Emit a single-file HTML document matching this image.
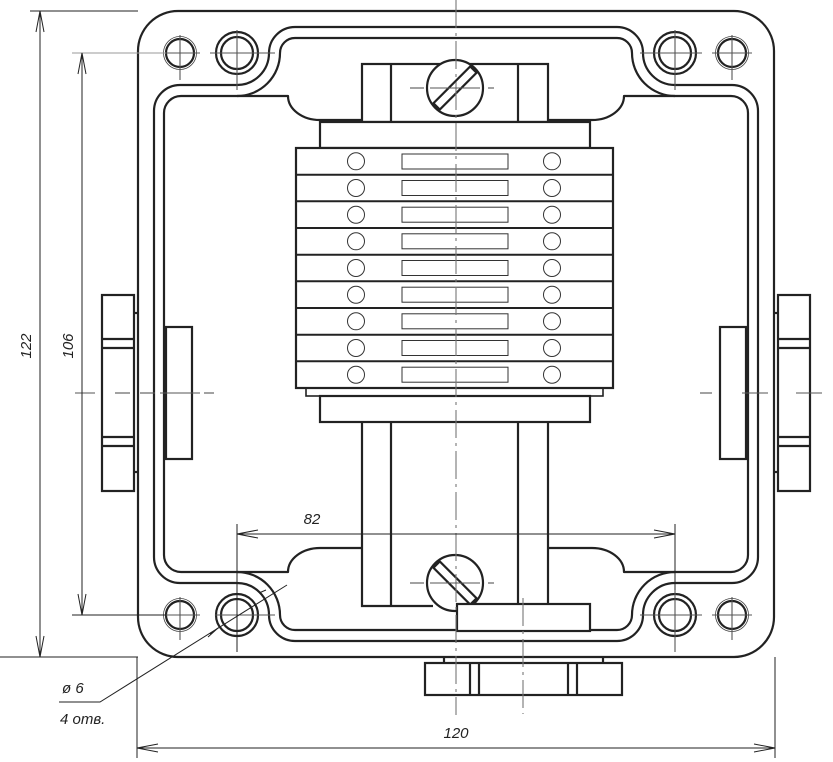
<!DOCTYPE html>
<html><head><meta charset="utf-8"><style>
html,body{margin:0;padding:0;background:#fff;}
svg{display:block;}
text{font-family:"Liberation Sans","DejaVu Sans",sans-serif;font-style:italic;font-size:15px;fill:#222;}
</style></head><body>
<svg width="833" height="762" viewBox="0 0 833 762" xmlns="http://www.w3.org/2000/svg">
<g fill="none" stroke="#222" stroke-width="2.2" stroke-linejoin="round">
<!-- body -->
<rect x="138" y="11" width="636" height="646" rx="40" ry="40"/>
<!-- groove outer -->
<path d="M154,111 A26,26 0 0 1 180,85 L237,85 A32,32 0 0 0 269,53 A26,26 0 0 1 295,27 L617,27 A26,26 0 0 1 643,53 A32,32 0 0 0 675,85 L732,85 A26,26 0 0 1 758,111 L758,557 A26,26 0 0 1 732,583 L675,583 A32,32 0 0 0 643,615 A26,26 0 0 1 617,641 L295,641 A26,26 0 0 1 269,615 A32,32 0 0 0 237,583 L180,583 A26,26 0 0 1 154,557 Z"/>
<!-- cavity -->
<path d="M362,548 L320,548 A32,24 0 0 0 288,572 L181,572 A17,17 0 0 1 164,555 L164,113 A17,17 0 0 1 181,96 L288,96 A32,24 0 0 0 320,120 L592,120 A32,24 0 0 0 624,96 L731,96 A17,17 0 0 1 748,113 L748,555 A17,17 0 0 1 731,572 L624,572 A32,24 0 0 0 592,548 L548,548"/>
<!-- inner groove around holes -->
<path d="M237,96 A43,43 0 0 0 280,53 A15,15 0 0 1 295,38 L617,38 A15,15 0 0 1 632,53 A43,43 0 0 0 675,96"/>
<path d="M237,572 A43,43 0 0 1 280,615 A15,15 0 0 0 295,630 L617,630 A15,15 0 0 0 632,615 A43,43 0 0 1 675,572"/>
<!-- holes -->
<circle cx="180" cy="53" r="14"/><circle cx="732" cy="53" r="14"/>
<circle cx="180" cy="615" r="14"/><circle cx="732" cy="615" r="14"/>
<circle cx="237" cy="53" r="21"/><circle cx="237" cy="53" r="16"/>
<circle cx="675" cy="53" r="21"/><circle cx="675" cy="53" r="16"/>
<circle cx="237" cy="615" r="21"/><circle cx="237" cy="615" r="16"/>
<circle cx="675" cy="615" r="21"/><circle cx="675" cy="615" r="16"/>
</g>
<g fill="none" stroke="#444" stroke-width="0.8">
<circle cx="180" cy="53" r="16.5"/><circle cx="732" cy="53" r="16.5"/>
<circle cx="180" cy="615" r="16.5"/><circle cx="732" cy="615" r="16.5"/>
</g>
<g fill="#fff" stroke="#222" stroke-width="2.2">
<!-- top mount -->
<rect x="362" y="64" width="186" height="58"/>
<line x1="391" y1="64" x2="391" y2="122"/><line x1="518" y1="64" x2="518" y2="122"/>
<circle cx="455" cy="88" r="28"/>
<rect x="429" y="83.5" width="52" height="9" transform="rotate(-45 455 88)"/>
<rect x="320" y="122" width="270" height="26"/>
<!-- bottom of stack -->
<rect x="306" y="386" width="297" height="10" stroke-width="1.6"/>
<rect x="320" y="396" width="270" height="26"/>
<!-- stack -->
<rect x="296" y="148" width="317" height="240"/>
</g>
<g fill="none" stroke="#222" stroke-width="2">
<line x1="296" y1="174.7" x2="613" y2="174.7"/>
<line x1="296" y1="201.3" x2="613" y2="201.3"/>
<line x1="296" y1="228" x2="613" y2="228"/>
<line x1="296" y1="254.7" x2="613" y2="254.7"/>
<line x1="296" y1="281.3" x2="613" y2="281.3"/>
<line x1="296" y1="308" x2="613" y2="308"/>
<line x1="296" y1="334.7" x2="613" y2="334.7"/>
<line x1="296" y1="361.3" x2="613" y2="361.3"/>
</g>
<g fill="none" stroke="#333" stroke-width="1">
<circle cx="356" cy="161.3" r="8.5"/><circle cx="552" cy="161.3" r="8.5"/><rect x="402" y="154" width="106" height="15"/>
<circle cx="356" cy="188" r="8.5"/><circle cx="552" cy="188" r="8.5"/><rect x="402" y="180.5" width="106" height="15"/>
<circle cx="356" cy="214.7" r="8.5"/><circle cx="552" cy="214.7" r="8.5"/><rect x="402" y="207.2" width="106" height="15"/>
<circle cx="356" cy="241.3" r="8.5"/><circle cx="552" cy="241.3" r="8.5"/><rect x="402" y="233.8" width="106" height="15"/>
<circle cx="356" cy="268" r="8.5"/><circle cx="552" cy="268" r="8.5"/><rect x="402" y="260.5" width="106" height="15"/>
<circle cx="356" cy="294.7" r="8.5"/><circle cx="552" cy="294.7" r="8.5"/><rect x="402" y="287.2" width="106" height="15"/>
<circle cx="356" cy="321.3" r="8.5"/><circle cx="552" cy="321.3" r="8.5"/><rect x="402" y="313.8" width="106" height="15"/>
<circle cx="356" cy="348" r="8.5"/><circle cx="552" cy="348" r="8.5"/><rect x="402" y="340.5" width="106" height="15"/>
<circle cx="356" cy="374.7" r="8.5"/><circle cx="552" cy="374.7" r="8.5"/><rect x="402" y="367.2" width="106" height="15"/>
</g>
<g fill="#fff" stroke="#222" stroke-width="2.2">
<!-- bottom mount -->
<path d="M362,422 L362,606 L433,606" fill="none"/>
<line x1="391" y1="422" x2="391" y2="606"/>
<line x1="518" y1="422" x2="518" y2="604"/>
<line x1="548" y1="422" x2="548" y2="604"/>
<circle cx="455" cy="583" r="28"/>
<rect x="429" y="578.5" width="52" height="9" transform="rotate(45 455 583)"/>
<rect x="457" y="604" width="133" height="27"/>
<!-- bottom gland -->
<line x1="444" y1="657" x2="444" y2="664" /><line x1="603" y1="657" x2="603" y2="664"/>
<rect x="425" y="663" width="197" height="32"/>
<line x1="470" y1="663" x2="470" y2="695"/><line x1="479" y1="663" x2="479" y2="695"/>
<line x1="568" y1="663" x2="568" y2="695"/><line x1="577" y1="663" x2="577" y2="695"/>
<!-- left gland -->
<rect x="166" y="327" width="26" height="132"/>
<line x1="134" y1="313" x2="139" y2="313"/><line x1="134" y1="472" x2="139" y2="472"/>
<rect x="102" y="295" width="32" height="196"/>
<line x1="102" y1="339" x2="134" y2="339"/><line x1="102" y1="348" x2="134" y2="348"/>
<line x1="102" y1="437" x2="134" y2="437"/><line x1="102" y1="446" x2="134" y2="446"/>
<!-- right gland -->
<rect x="720" y="327" width="26" height="132"/>
<line x1="773" y1="313" x2="778" y2="313"/><line x1="773" y1="472" x2="778" y2="472"/>
<rect x="778" y="295" width="32" height="196"/>
<line x1="778" y1="339" x2="810" y2="339"/><line x1="778" y1="348" x2="810" y2="348"/>
<line x1="778" y1="437" x2="810" y2="437"/><line x1="778" y1="446" x2="810" y2="446"/>
</g>
<!-- center lines -->
<g stroke="#777" stroke-width="1.1" fill="none" stroke-dasharray="28,5,3,5">
<line x1="456" y1="0" x2="456" y2="715"/>
<line x1="523" y1="598" x2="523" y2="714"/>
</g>
<g stroke="#555" stroke-width="1.1" fill="none">
<line x1="140" y1="393" x2="155" y2="393"/><line x1="160" y1="393" x2="200" y2="393"/><line x1="204" y1="393" x2="214" y2="393"/>
<line x1="75" y1="393" x2="95" y2="393"/><line x1="115" y1="393" x2="130" y2="393"/>
<line x1="700" y1="393" x2="712" y2="393"/><line x1="742" y1="393" x2="768" y2="393"/><line x1="796" y1="393" x2="822" y2="393"/>
<line x1="410" y1="88" x2="424" y2="88"/><line x1="430" y1="88" x2="480" y2="88"/><line x1="488" y1="88" x2="494" y2="88"/>
<line x1="410" y1="583" x2="424" y2="583"/><line x1="430" y1="583" x2="480" y2="583"/><line x1="488" y1="583" x2="494" y2="583"/>
<!-- hole centers -->
<line x1="160" y1="53" x2="200" y2="53"/><line x1="180" y1="35" x2="180" y2="80"/>
<line x1="712" y1="53" x2="752" y2="53"/><line x1="732" y1="35" x2="732" y2="80"/>
<line x1="160" y1="615" x2="200" y2="615"/><line x1="180" y1="597" x2="180" y2="640"/>
<line x1="712" y1="615" x2="752" y2="615"/><line x1="732" y1="597" x2="732" y2="640"/>
<line x1="210" y1="53" x2="275" y2="53"/><line x1="237" y1="30" x2="237" y2="90"/>
<line x1="640" y1="53" x2="702" y2="53"/><line x1="675" y1="30" x2="675" y2="90"/>
<line x1="215" y1="615" x2="275" y2="615"/><line x1="675" y1="590" x2="675" y2="652"/>
<line x1="640" y1="615" x2="702" y2="615"/>
</g>
<!-- dimensions -->
<g stroke="#222" stroke-width="1" fill="none">
<line x1="30" y1="11" x2="138" y2="11"/>
<line x1="0" y1="657" x2="138" y2="657"/>
<line x1="40" y1="11" x2="40" y2="657"/>
<path d="M36,32 L40,11 L44,32 M36,636 L40,657 L44,636"/>
<line x1="72" y1="53" x2="166" y2="53" stroke="#999"/>
<line x1="72" y1="615" x2="166" y2="615"/>
<line x1="82" y1="53" x2="82" y2="615"/>
<path d="M78,74 L82,53 L86,74 M78,594 L82,615 L86,594"/>
<line x1="237" y1="524" x2="237" y2="652"/>
<line x1="675" y1="524" x2="675" y2="590"/>
<line x1="237" y1="534" x2="675" y2="534"/>
<path d="M258,530 L237,534 L258,538 M654,530 L675,534 L654,538"/>
<line x1="137" y1="657" x2="137" y2="758"/>
<line x1="775" y1="657" x2="775" y2="758"/>
<line x1="137" y1="748" x2="775" y2="748"/>
<path d="M158,744 L137,748 L158,752 M754,744 L775,748 L754,752"/>
<!-- leader -->
<path d="M287,585 L100,702 L59,702"/>
<path d="M208,637 L218,628 M210,634 L218,628 M259,593 L266,590"/>
</g>
<text transform="translate(31,346) rotate(-90)" text-anchor="middle">122</text>
<text transform="translate(73,346) rotate(-90)" text-anchor="middle">106</text>
<text x="312" y="524" text-anchor="middle">82</text>
<text x="456" y="738" text-anchor="middle">120</text>
<text x="62" y="693">ø 6</text>
<text x="60" y="724">4 отв.</text>
</svg>
</body></html>
